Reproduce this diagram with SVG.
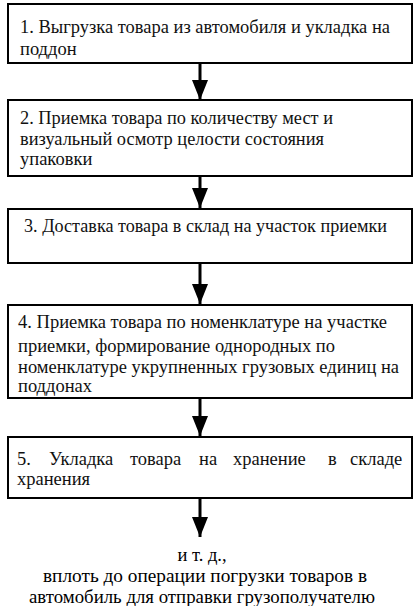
<svg xmlns="http://www.w3.org/2000/svg" width="420" height="606" viewBox="0 0 420 606">
<style>
.box{fill:#fff;stroke:#000;stroke-width:2}
.c{stroke:#000;stroke-width:3;fill:none}
</style>
<defs>
<marker id="ah" viewBox="0 0 20 16" refX="20" refY="8" markerWidth="20" markerHeight="16" markerUnits="userSpaceOnUse" orient="auto">
<path d="M0,0 L20,8 L0,16 Z" fill="#000"/>
</marker>
</defs>
<rect width="420" height="606" fill="#fff"/>
<g id="connectors">
<line class="c" x1="200" y1="63" x2="200" y2="100" marker-end="url(#ah)"/>
<line class="c" x1="200" y1="176" x2="200" y2="208" marker-end="url(#ah)"/>
<line class="c" x1="200" y1="263" x2="200" y2="304" marker-end="url(#ah)"/>
<line class="c" x1="200" y1="398" x2="200" y2="436" marker-end="url(#ah)"/>
<line class="c" x1="200" y1="498" x2="200" y2="537" marker-end="url(#ah)"/>
</g>
<g id="n1">
<rect class="box" x="8" y="4" width="404" height="59"/>
<text font-family="Liberation Serif" font-size="18.5" fill="#111" x="20" y="33" textLength="370" lengthAdjust="spacingAndGlyphs">1. Выгрузка товара из автомобиля и укладка на</text>
<text font-family="Liberation Serif" font-size="18.5" fill="#111" x="20" y="55">поддон</text>
</g>
<g id="n2">
<rect class="box" x="8" y="100" width="404" height="76"/>
<text font-family="Liberation Serif" font-size="18.5" fill="#111" x="20" y="124" textLength="313" lengthAdjust="spacingAndGlyphs">2. Приемка товара по количеству мест и</text>
<text font-family="Liberation Serif" font-size="18.5" fill="#111" x="20" y="145" textLength="304" lengthAdjust="spacingAndGlyphs">визуальный осмотр целости состояния</text>
<text font-family="Liberation Serif" font-size="18.5" fill="#111" x="20" y="165">упаковки</text>
</g>
<g id="n3">
<rect class="box" x="8" y="209" width="404" height="54"/>
<text font-family="Liberation Serif" font-size="18.5" fill="#111" x="24" y="232" textLength="363" lengthAdjust="spacingAndGlyphs">3. Доставка товара в склад на участок приемки</text>
</g>
<g id="n4">
<rect class="box" x="8" y="305" width="404" height="93"/>
<text font-family="Liberation Serif" font-size="18.5" fill="#111" x="18" y="328" textLength="369" lengthAdjust="spacingAndGlyphs">4. Приемка товара по номенклатуре на участке</text>
<text font-family="Liberation Serif" font-size="18.5" fill="#111" x="18" y="352" textLength="317" lengthAdjust="spacingAndGlyphs">приемки, формирование однородных по</text>
<text font-family="Liberation Serif" font-size="18.5" fill="#111" x="18" y="373" textLength="381" lengthAdjust="spacingAndGlyphs">номенклатуре укрупненных грузовых единиц на</text>
<text font-family="Liberation Serif" font-size="18.5" fill="#111" x="18" y="392">поддонах</text>
</g>
<g id="n5">
<rect class="box" x="8" y="437" width="404" height="61"/>
<text font-family="Liberation Serif" font-size="18.5" fill="#111" y="465"><tspan x="17">5.</tspan><tspan x="49">Укладка</tspan><tspan x="130">товара</tspan><tspan x="199">на</tspan><tspan x="233">хранение</tspan><tspan x="328">в</tspan><tspan x="350">складе</tspan></text>
<text font-family="Liberation Serif" font-size="18.5" fill="#111" x="17" y="485">хранения</text>
</g>
<g id="footer">
<text font-family="Liberation Serif" font-size="18.5" fill="#000" text-anchor="middle" x="202" y="561">и т. д.,</text>
<text font-family="Liberation Serif" font-size="18.5" fill="#000" text-anchor="middle" x="205" y="582" textLength="324" lengthAdjust="spacingAndGlyphs">вплоть до операции погрузки товаров в</text>
<text font-family="Liberation Serif" font-size="18.5" fill="#000" text-anchor="middle" x="202" y="603" textLength="346" lengthAdjust="spacingAndGlyphs">автомобиль для отправки грузополучателю</text>
</g>
</svg>
